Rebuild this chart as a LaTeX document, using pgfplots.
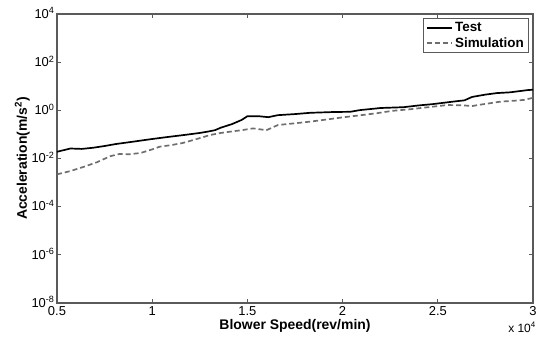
\documentclass[border=0pt]{standalone}
\usepackage{pgfplots}
\pgfplotsset{compat=1.18}
\usepackage{fontspec}
\setmainfont{Liberation Sans}
\definecolor{axgray}{RGB}{90,90,90}
\definecolor{simgray}{RGB}{110,110,110}
\begin{document}
\begin{tikzpicture}
\begin{axis}[
  scale only axis,
  width=476bp, height=289bp,
  ymode=log, log basis y=10,
  xmin=0.5, xmax=3, ymin=1e-8, ymax=1e4,
  xtick={0.5,1,1.5,2,2.5,3},
  xticklabels={0.5,1,1.5,2,2.5,3},
  ytick={1e-8,1e-6,1e-4,1e-2,1,1e2,1e4},
  yticklabels={10\textsuperscript{-8},10\textsuperscript{-6},10\textsuperscript{-4},10\textsuperscript{-2},10\textsuperscript{0},10\textsuperscript{2},10\textsuperscript{4}},
  minor tick num=0, minor ytick={},
  yminorticks=false,
  tick align=inside,
  major tick length=4bp,
  axis line style={axgray, line width=1.2pt},
  every tick/.style={axgray, line width=0.8pt},
  tick label style={font=\fontsize{13}{13}\selectfont, text=black},
  xticklabel style={yshift=0bp},
  yticklabel style={xshift=1bp, yshift=1bp},
  xlabel={\textbf{Blower Speed(rev/min)}},
  ylabel={\textbf{Acceleration(m/s\textsuperscript{2})}},
  label style={font=\fontsize{14}{14}\selectfont},
  xlabel style={yshift=3bp},
  ylabel style={yshift=-5bp},
  legend style={at={(rel axis cs:0.992,0.985)}, anchor=north east,
    font=\bfseries\fontsize{13.5}{13.5}\selectfont, draw=axgray, line width=0.8pt,
    inner xsep=3bp, inner ysep=2bp, row sep=0bp, cells={anchor=west}},
  legend image code/.code={\draw[#1] plot coordinates {(0bp,0bp) (25bp,0bp)};},
  legend cell align=left,
]
\addplot[black, line width=1.7pt] coordinates {
(0.50,0.019) (0.57,0.026) (0.63,0.025) (0.69,0.028) (0.75,0.033) (0.81,0.040)
(0.90,0.050) (0.99,0.063) (1.08,0.078) (1.16,0.093) (1.25,0.115) (1.29,0.13)
(1.33,0.15) (1.36,0.19) (1.42,0.27) (1.47,0.40) (1.50,0.57) (1.56,0.57)
(1.61,0.52) (1.66,0.63) (1.75,0.70) (1.83,0.79) (1.95,0.85) (2.04,0.87)
(2.09,1.02) (2.20,1.25) (2.32,1.35) (2.40,1.6) (2.47,1.8) (2.60,2.4)
(2.64,2.6) (2.68,3.6) (2.75,4.5) (2.81,5.2) (2.88,5.6) (2.97,6.9) (3.00,7.2)
};
\addlegendentry{Test}
\addplot[simgray, line width=1.7pt, dash pattern=on 5bp off 3bp] coordinates {
(0.50,0.0022) (0.57,0.0030) (0.64,0.0045) (0.71,0.0070) (0.78,0.0125) (0.83,0.0155)
(0.88,0.015) (0.94,0.017) (1.00,0.024) (1.04,0.031) (1.10,0.036) (1.16,0.044)
(1.22,0.060) (1.27,0.078) (1.30,0.093) (1.36,0.115) (1.41,0.13) (1.47,0.15)
(1.53,0.178) (1.60,0.15) (1.66,0.245) (1.75,0.29) (1.83,0.34) (1.92,0.42)
(2.00,0.51) (2.09,0.62) (2.18,0.76) (2.26,0.95) (2.35,1.10) (2.45,1.35)
(2.55,1.66) (2.63,1.62) (2.68,1.5) (2.71,1.66) (2.77,1.95) (2.83,2.3)
(2.90,2.5) (2.95,2.7) (3.00,3.3)
};
\addlegendentry{Simulation}
\end{axis}
\node[anchor=north east, font=\fontsize{12}{12}\selectfont, inner sep=0pt] at ([shift={(3bp,-19bp)}]current axis.south east) {x 10\textsuperscript{4}};
\pgfresetboundingbox
\path ([shift={(-57bp,-42bp)}]current axis.south west) rectangle ([shift={(9bp,14bp)}]current axis.north east);
\end{tikzpicture}
\end{document}
